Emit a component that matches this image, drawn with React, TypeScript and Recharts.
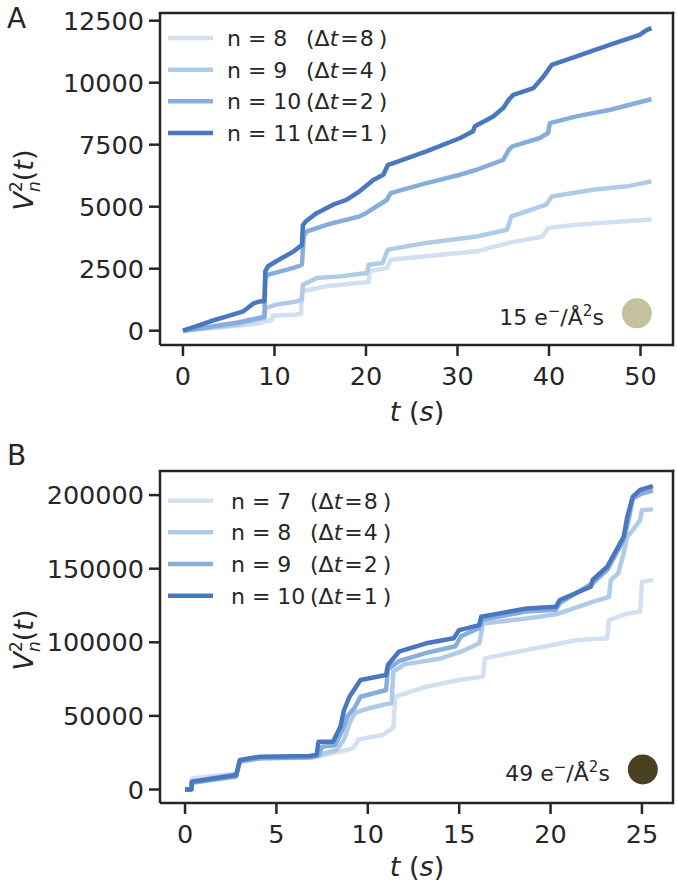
import React from 'react';
import { LineChart, Line, XAxis, YAxis, ReferenceDot, Legend } from 'recharts';

const FONT = '"DejaVu Sans", sans-serif';
const INK = '#262626';
const FRAME = '#262626';
const COLORS = ['#d2e0f2', '#b0cbe8', '#86addc', '#4a78c0'];

// ---------- Panel A (15 e-/Å²s) ----------
const A_X_TICKS = [0, 10, 20, 30, 40, 50];
const A_Y_TICKS = [0, 2500, 5000, 7500, 10000, 12500];
const A_N_LABELS = ['8', '9', '10', '11'];
const A_DT_LABELS = ['8', '4', '2', '1'];
const A_DOSE = '15';

const A_N8 = [[0,0],[3,100],[6,200],[8.4,300],[9.0,380],[9.7,420],[9.8,600],[12.4,650],[12.9,690],[13.0,1590],[15.7,1790],[19.3,1930],[20.3,1950],[20.4,2390],[22.3,2530],[22.7,2860],[26.6,3000],[32.1,3200],[35.6,3540],[39.3,3800],[39.9,4140],[43.0,4270],[46.7,4370],[51.2,4480]];
const A_N9 = [[0,0],[3,130],[5.5,220],[8.4,470],[8.9,490],[9.0,910],[10.2,1050],[12.4,1180],[13.0,1250],[13.1,1850],[14.6,2120],[17.2,2190],[20.1,2330],[20.3,2660],[21.8,2730],[22.4,3270],[26.6,3540],[32.1,3800],[35.4,4070],[35.9,4610],[39.7,5080],[40.3,5410],[44.8,5680],[48.5,5820],[51.2,6020]];
const A_N10 = [[0,0],[2,100],[4,220],[6,330],[8.4,520],[8.9,560],[9.0,2120],[9.3,2260],[12.1,2530],[13.0,2660],[13.2,3800],[13.5,4000],[15.7,4270],[19.3,4610],[20.0,4740],[22.3,5280],[22.7,5550],[26.6,5950],[30.3,6290],[32.1,6490],[35.0,6890],[35.6,7290],[36.0,7430],[39.0,7770],[39.9,7970],[40.1,8370],[43.0,8640],[46.7,8910],[50.3,9250],[51.2,9340]];
const A_N11 = [[0,0],[1.5,180],[3,380],[4.8,580],[6.6,780],[7.7,1100],[8.4,1180],[8.9,1200],[9.0,2400],[9.3,2600],[10.2,2800],[12.1,3200],[12.8,3400],[13.0,3450],[13.1,4250],[13.4,4400],[14.6,4740],[16.4,5080],[17.9,5280],[19.3,5620],[20.8,6080],[21.9,6290],[22.4,6690],[23.0,6760],[26.6,7230],[30.3,7770],[31.7,8040],[31.9,8240],[33.9,8640],[35.0,8980],[35.6,9310],[36.1,9510],[38.3,9780],[39.4,10250],[40.3,10720],[43.0,11060],[46.7,11530],[49.9,11930],[50.7,12130],[51.2,12200]];
const A_DOT = [49.6, 700];

// ---------- Panel B (49 e-/Å²s) ----------
const B_X_TICKS = [0, 5, 10, 15, 20, 25];
const B_Y_TICKS = [0, 50000, 100000, 150000, 200000];
const B_N_LABELS = ['7', '8', '9', '10'];
const B_DT_LABELS = ['8', '4', '2', '1'];
const B_DOSE = '49';

const B_N7 = [[0,0],[0.35,0],[0.37,7500],[2.8,11000],[3.0,19500],[4.1,21000],[6.9,21500],[8.0,24500],[8.7,26500],[9.2,28000],[9.5,34000],[10.8,37000],[11.4,42000],[11.5,63000],[13.2,69800],[15.0,74400],[16.3,76700],[16.4,89100],[18.7,94800],[21.5,101600],[23.1,102700],[23.2,115100],[24.2,119600],[24.9,120700],[25.0,141100],[25.6,142300]];
const B_N8 = [[0,0],[0.35,0],[0.37,5500],[2.8,10500],[3.0,19500],[4.1,21500],[6.9,21600],[7.5,24000],[8.3,27000],[8.7,34000],[9.0,45000],[9.3,52000],[10.0,55000],[11.0,58000],[11.3,58500],[11.4,80000],[12.0,85000],[14.0,89000],[15.1,93600],[16.1,99300],[16.3,112800],[18.7,116200],[20.3,119000],[22.3,127500],[23.2,130900],[23.3,142300],[23.7,146800],[24.0,160400],[24.2,171700],[24.5,176200],[24.9,183000],[25.0,189800],[25.6,190300]];
const B_N9 = [[0,0],[0.35,0],[0.37,4500],[2.8,8800],[3.0,19000],[4.1,21200],[6.8,21900],[7.3,23000],[7.5,29000],[8.2,30000],[8.6,40000],[8.9,50000],[9.3,56000],[9.6,63000],[11.0,67600],[11.1,81500],[11.7,87200],[13.2,92800],[14.8,97300],[15.1,104100],[16.1,109800],[16.3,115500],[18.7,121000],[20.3,122100],[20.5,126600],[22.3,140100],[23.1,149200],[24.0,169400],[24.3,185000],[24.5,197700],[25.0,201000],[25.6,203000]];
const B_N10 = [[0,0],[0.35,0],[0.37,5300],[2.8,9800],[3.0,20000],[4.1,22300],[6.8,22700],[7.2,23500],[7.3,32400],[8.1,32500],[8.5,42700],[8.7,54000],[9.0,63000],[9.6,74400],[11.0,77800],[11.1,84600],[11.7,93600],[13.2,99300],[14.7,102700],[15.0,108300],[16.1,111700],[16.2,117400],[18.7,123000],[20.3,124200],[20.5,128700],[22.2,137700],[22.3,142300],[23.1,151300],[23.6,162600],[24.0,171700],[24.2,185300],[24.5,198900],[24.9,203500],[25.6,206100]];
const B_DOT = [25.05, 13600];

const toPts = (arr: number[][]) => arr.map(([t, v]) => ({ t, v }));

// chart layout (shared by both panels)
const W = 677;
const H = 425;
const M_TOP = 13;
const M_RIGHT = 4;
const Y_AXIS_W = 160;
const X_AXIS_H = 80;
const PANEL_TOPS = [0, 458];

type PanelProps = {
  top: number;
  series: number[][][];
  nLabels: string[];
  dtLabels: string[];
  xTicks: number[];
  yTicks: number[];
  xDomain: [number, number];
  yDomain: [number, number];
  dot: number[];
  dotColor: string;
  dose: string;
  legendRows: number[];
  legendTextX: number;
  legendParenX: number;
};

function LegendBox({ nLabels, dtLabels, rows, textX, parenX }: any) {
  return (
    <svg width={280} height={150} style={{ display: 'block', overflow: 'visible' }}>
      {nLabels.map((n: string, i: number) => (
        <g key={n}>
          <line x1={8} x2={53} y1={rows[i]} y2={rows[i]} stroke={COLORS[i]} strokeWidth={4.5} />
          <text x={textX} y={rows[i]} dy={8} fontFamily={FONT} fontSize={22} fill={INK}>
            {`n = ${n}`}
          </text>
          <text x={parenX} y={rows[i]} dy={8} fontFamily={FONT} fontSize={22} fill={INK}>
            <tspan>(Δ</tspan>
            <tspan fontStyle="italic">t</tspan>
            <tspan dx={2}>=</tspan>
            <tspan dx={1}>{dtLabels[i]}</tspan>
            <tspan dx={5}>)</tspan>
          </text>
        </g>
      ))}
    </svg>
  );
}

function DoseText({ x, y, value }: { x: number; y: number; value: string }) {
  return (
    <text x={x} y={y} textAnchor="end" fontFamily={FONT} fontSize={22} fill={INK}>
      <tspan>{value} e</tspan>
      <tspan fontSize={15} dy={-9}>−</tspan>
      <tspan dy={9}>/Å</tspan>
      <tspan fontSize={15} dy={-9}>2</tspan>
      <tspan dy={9}>s</tspan>
    </text>
  );
}

function Panel(p: PanelProps) {
  const axisStroke = { stroke: INK, strokeWidth: 2.5 };
  const tickStyle = { fill: INK, fontSize: 25.5, fontFamily: FONT };
  // the full plot box (all four spines) is drawn as a rectangle from the y-axis tick renderer,
  // using the axis viewBox that Recharts hands to it
  const renderYTick = (tp: any) => {
    const { x, y, payload, index, viewBox } = tp;
    const isLast = index === p.yTicks.length - 1;
    return (
      <g>
        <text x={x} y={y} dy="0.355em" textAnchor="end" fontFamily={FONT} fontSize={25.5} fill={INK}>
          {payload.value}
        </text>
      </g>
    );
  };
  return (
    <div style={{ position: 'absolute', left: 0, top: p.top, width: W, height: H }}>
      <LineChart width={W} height={H} margin={{ top: M_TOP, right: M_RIGHT, bottom: 0, left: 0 }}>
        <XAxis
          dataKey="t"
          type="number"
          domain={p.xDomain}
          allowDataOverflow
          ticks={p.xTicks}
          interval={0}
          height={X_AXIS_H}
          tick={tickStyle}
          tickSize={11}
          tickMargin={11}
          axisLine={axisStroke}
          tickLine={axisStroke}
        />
        <YAxis
          type="number"
          domain={p.yDomain}
          allowDataOverflow
          ticks={p.yTicks}
          interval={0}
          width={Y_AXIS_W}
          tick={renderYTick}
          tickSize={11}
          tickMargin={5}
          axisLine={axisStroke}
          tickLine={axisStroke}
        />
        {p.series.map((s, i) => (
          <Line
            key={i}
            data={toPts(s)}
            dataKey="v"
            type="linear"
            stroke={COLORS[i]}
            strokeWidth={4.5}
            dot={false}
            isAnimationActive={false}
            strokeLinejoin="round"
          />
        ))}
        <ReferenceDot
          x={p.dot[0]}
          y={p.dot[1]}
          r={15}
          fill={p.dotColor}
          stroke="none"
          label={{
            content: (lp: any) => {
              const vb = lp.viewBox || {};
              const cx = (vb.x ?? 0) + (vb.width ?? 0) / 2;
              const cy = (vb.y ?? 0) + (vb.height ?? 0) / 2;
              return <DoseText x={cx - 33} y={cy + 12} value={p.dose} />;
            },
          }}
        />
        <Legend
          verticalAlign="middle"
          align="center"
          layout="horizontal"
          wrapperStyle={{ position: 'absolute', left: Y_AXIS_W, top: M_TOP, width: 280, height: 150 }}
          content={() => (
            <LegendBox
              nLabels={p.nLabels}
              dtLabels={p.dtLabels}
              rows={p.legendRows}
              textX={p.legendTextX}
              parenX={p.legendParenX}
            />
          )}
        />
      </LineChart>
    </div>
  );
}

function YLabel({ x, y }: { x: number; y: number }) {
  return (
    <text transform={`translate(${x},${y}) rotate(-90)`} textAnchor="middle" fontFamily={FONT} fontSize={27} fill={INK}>
      <tspan fontStyle="italic">V</tspan>
      <tspan fontSize={17} dy={-11}>2</tspan>
      <tspan fontSize={17} fontStyle="italic" dx={-10.8} dy={18}>n</tspan>
      <tspan dy={-7}>(</tspan>
      <tspan fontStyle="italic">t</tspan>
      <tspan>)</tspan>
    </text>
  );
}

function XLabel({ x, y }: { x: number; y: number }) {
  return (
    <text x={x} y={y} textAnchor="middle" fontFamily={FONT} fontSize={27} fill={INK}>
      <tspan fontStyle="italic">t</tspan>
      <tspan> (</tspan>
      <tspan fontStyle="italic">s</tspan>
      <tspan>)</tspan>
    </text>
  );
}

// top and right spines of each plot box
function Spines({ top }: { top: number }) {
  const l = Y_AXIS_W;
  const r = W - M_RIGHT;
  const t = top + M_TOP;
  const b = top + H - X_AXIS_H;
  return (
    <g>
      <rect x={l - 1.25} y={t - 1.25} width={r - l + 2.5} height={2.5} fill={FRAME} />
      <rect x={r - 1.25} y={t - 1.25} width={2.5} height={b - t + 2.5} fill={FRAME} />
    </g>
  );
}

export default function App() {
  return (
    <div style={{ position: 'absolute', left: 0, top: 0, width: 677, height: 883, background: '#fff', overflow: 'hidden' }}>
      <Panel
        top={PANEL_TOPS[0]}
        series={[A_N8, A_N9, A_N10, A_N11]}
        nLabels={A_N_LABELS}
        dtLabels={A_DT_LABELS}
        xTicks={A_X_TICKS}
        yTicks={A_Y_TICKS}
        xDomain={[-2.51, 53.55]}
        yDomain={[-577, 12810]}
        dot={A_DOT}
        dotColor="#c5c19f"
        dose={A_DOSE}
        legendRows={[25, 56.7, 88.3, 120]}
        legendTextX={67}
        legendParenX={146}
      />
      <Panel
        top={PANEL_TOPS[1]}
        series={[B_N7, B_N8, B_N9, B_N10]}
        nLabels={B_N_LABELS}
        dtLabels={B_DT_LABELS}
        xTicks={B_X_TICKS}
        yTicks={B_Y_TICKS}
        xDomain={[-1.37, 26.7]}
        yDomain={[-9171, 216372]}
        dot={B_DOT}
        dotColor="#4a4022"
        dose={B_DOSE}
        legendRows={[29.7, 61.3, 93, 124.7]}
        legendTextX={71}
        legendParenX={150}
      />
      <svg width={677} height={883} style={{ position: 'absolute', left: 0, top: 0, pointerEvents: 'none', zIndex: 10 }}>
        <Spines top={PANEL_TOPS[0]} />
        <Spines top={PANEL_TOPS[1]} />
        <text x={7} y={28} fontFamily={FONT} fontSize={28} fill={INK}>A</text>
        <text x={7} y={465} fontFamily={FONT} fontSize={28} fill={INK}>B</text>
        <YLabel x={33} y={180} />
        <YLabel x={33} y={640} />
        <XLabel x={417} y={421} />
        <XLabel x={417} y={876} />
      </svg>
    </div>
  );
}
